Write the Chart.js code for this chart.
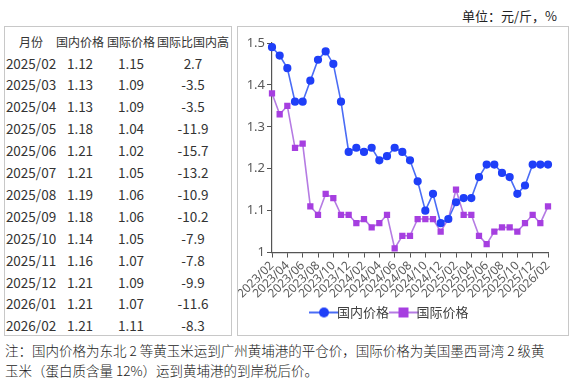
<!DOCTYPE html>
<html><head><meta charset="utf-8">
<script src="https://cdn.jsdelivr.net/npm/chart.js@4.4.1/dist/chart.umd.min.js"></script>
<style>
html,body{margin:0;padding:0;background:#fff;width:573px;height:381px;overflow:hidden;}
body{position:relative;font-family:"Noto Sans CJK SC","Noto Sans",sans-serif;}
.panel{position:absolute;border:1px solid #c8c8c8;box-sizing:border-box;}
.cell{position:absolute;transform:translate(-50%,-50%);white-space:nowrap;color:#333;}
#unit{position:absolute;right:16px;top:6px;font-size:13px;color:#222;}
#note{position:absolute;left:5px;top:340px;font-size:13.5px;line-height:20px;color:#1a1a1a;white-space:nowrap;font-weight:300;}
</style></head>
<body>
<div id="unit">单位：元/斤，%</div>
<div class="panel" id="tbl" style="left:4px;top:26px;width:228px;height:310px;"></div>
<div class="panel" style="left:237px;top:26px;width:332px;height:310px;"></div>
<canvas id="c" width="329" height="307" style="position:absolute;left:238px;top:27px;"></canvas>
<div id="note">注：国内价格为东北 2 等黄玉米运到广州黄埔港的平仓价，国际价格为美国墨西哥湾 2 级黄<br>玉米（蛋白质含量 12%）运到黄埔港的到岸税后价。</div>
<script>
const categories = ["2023/02","2023/03","2023/04","2023/05","2023/06","2023/07","2023/08","2023/09","2023/10","2023/11","2023/12",
"2024/01","2024/02","2024/03","2024/04","2024/05","2024/06","2024/07","2024/08","2024/09","2024/10","2024/11","2024/12",
"2025/01","2025/02","2025/03","2025/04","2025/05","2025/06","2025/07","2025/08","2025/09","2025/10","2025/11","2025/12",
"2026/01","2026/02"];
const domestic = [1.49,1.47,1.44,1.36,1.36,1.41,1.46,1.48,1.45,1.36,1.24,
1.25,1.24,1.25,1.22,1.23,1.25,1.24,1.22,1.17,1.10,1.14,1.07,
1.08,1.12,1.13,1.13,1.18,1.21,1.21,1.19,1.18,1.14,1.16,1.21,
1.21,1.21];
const international = [1.38,1.33,1.35,1.25,1.26,1.11,1.09,1.14,1.13,1.09,1.09,
1.07,1.08,1.06,1.07,1.09,1.01,1.04,1.04,1.08,1.08,1.08,1.05,
1.08,1.15,1.09,1.09,1.04,1.02,1.05,1.06,1.06,1.05,1.07,1.09,
1.07,1.11];
const tableHeader = ["月份","国内价格","国际价格","国际比国内高"];
const tableMonths = ["2025/02","2025/03","2025/04","2025/05","2025/06","2025/07","2025/08","2025/09","2025/10","2025/11","2025/12","2026/01","2026/02"];
const tableDomestic = ["1.12","1.13","1.13","1.18","1.21","1.21","1.19","1.18","1.14","1.16","1.21","1.21","1.21"];
const tableInternational = ["1.15","1.09","1.09","1.04","1.02","1.05","1.06","1.06","1.05","1.07","1.09","1.07","1.11"];
const tableDiff = ["2.7","-3.5","-3.5","-11.9","-15.7","-13.2","-10.9","-10.2","-7.9","-7.8","-9.9","-11.6","-8.3"];
const yTicks = [1,1.1,1.2,1.3,1.4,1.5];

// table
(function(){
  const tbl = document.getElementById('tbl');
  const colX = [26,75,126,188];
  const headY = 13.5, rowY0 = 35.5, rowH = 21.9;
  function add(txt,x,y,size){
    const d=document.createElement('div');d.className='cell';d.textContent=txt;
    d.style.left=x+'px';d.style.top=y+'px';d.style.fontSize=size+'px';tbl.appendChild(d);
  }
  tableHeader.forEach((h,i)=>add(h,colX[i],headY,12));
  tableMonths.forEach((m,r)=>{
    const y=rowY0+r*rowH;
    add(m,colX[0],y,13.5);add(tableDomestic[r],colX[1],y,13.5);
    add(tableInternational[r],colX[2],y,13.5);add(tableDiff[r],colX[3],y,13.5);
  });
})();

const blueLine='#4a6cf5', bluePt='#1f3ff8', purpLine='#b57be3', purpPt='#a63fe0';
function legendIcon(line,pt,shape){
  const c=document.createElement('canvas');c.width=30;c.height=14;
  const g=c.getContext('2d');g.strokeStyle=line;g.lineWidth=2;
  g.beginPath();g.moveTo(0,7);g.lineTo(30,7);g.stroke();
  g.fillStyle=pt;
  if(shape==='circle'){g.beginPath();g.arc(15,7,5,0,Math.PI*2);g.fill();}
  else{g.fillRect(10,2,10,10);}
  return c;
}
const icons=[legendIcon(blueLine,bluePt,'circle'),legendIcon(purpLine,purpPt,'rect')];

new Chart(document.getElementById('c'),{
  type:'line',
  data:{labels:categories,datasets:[
    {label:'国内价格',data:domestic,borderColor:blueLine,backgroundColor:bluePt,pointBackgroundColor:bluePt,pointBorderColor:bluePt,
     pointStyle:'circle',pointRadius:3.3,borderWidth:1.6,tension:0},
    {label:'国际价格',data:international,borderColor:purpLine,backgroundColor:purpPt,pointBackgroundColor:purpPt,pointBorderColor:purpPt,
     pointStyle:'rect',pointRadius:3.3,borderWidth:1.6,tension:0}
  ]},
  options:{
    responsive:false,animation:false,devicePixelRatio:1,
    layout:{padding:{top:16,right:19,left:0,bottom:5}},
    plugins:{
      tooltip:{enabled:false},
      legend:{position:'bottom',
        labels:{usePointStyle:true,font:{size:13,family:'"Noto Sans CJK SC",sans-serif'},color:'#404040',padding:8,boxWidth:30,
          generateLabels:(chart)=>chart.data.datasets.map((ds,i)=>({text:ds.label,pointStyle:icons[i],datasetIndex:i,hidden:false,fontColor:'#404040',lineWidth:0,strokeStyle:'transparent',fillStyle:'transparent'}))}}
    },
    scales:{
      x:{offset:false,
        afterFit:(s)=>{s.height=s.height-4; s._computeLabelArea=()=>undefined;},
        grid:{drawOnChartArea:false,drawTicks:true,tickLength:5,color:'#555'},
        border:{display:true,color:'#555',width:1.2},
        ticks:{autoSkip:false,maxRotation:45,minRotation:45,padding:1,color:'#595959',font:{size:12,family:'"Noto Sans",sans-serif'},
          callback:(v,i)=> i%2===0 ? categories[i] : null}},
      y:{min:1,max:1.5,
        afterBuildTicks:(s)=>{s.ticks=yTicks.map(v=>({value:v}));},
        afterFit:(s)=>{s.width=34;},
        grid:{drawOnChartArea:false,drawTicks:true,tickLength:5,color:'#555'},
        border:{display:true,color:'#555',width:1.2},
        ticks:{color:'#595959',padding:2,font:{size:13,family:'"Noto Sans",sans-serif'},
          callback:(v)=>String(Number(v.toFixed(1)))}}
    }
  }
});
</script>
</body></html>
